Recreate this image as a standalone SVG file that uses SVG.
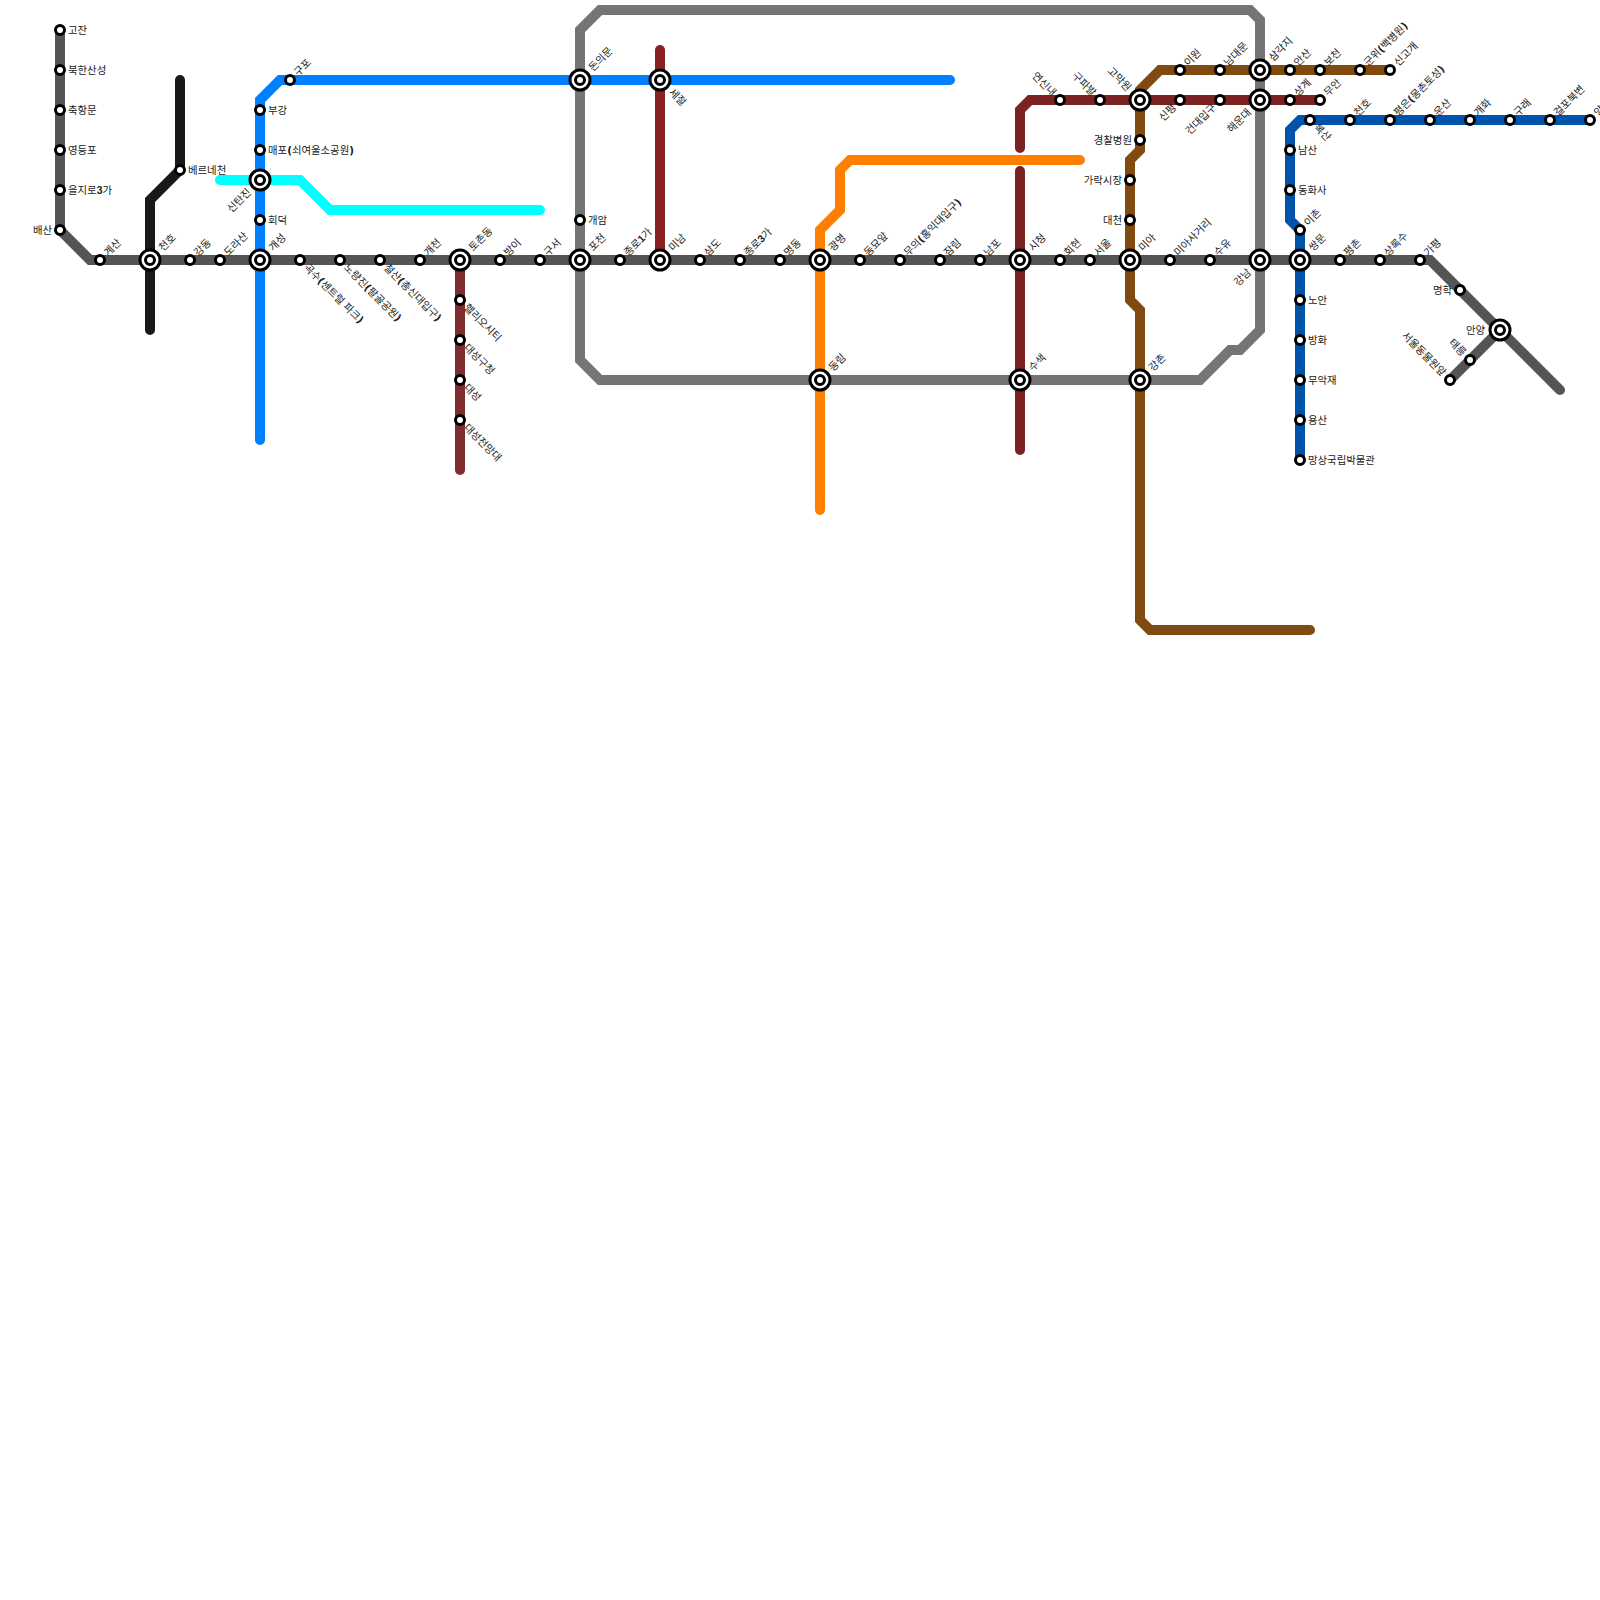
<svg xmlns="http://www.w3.org/2000/svg" width="1600" height="1600" viewBox="0 0 1600 1600">
<style>
.l{fill:none;stroke-width:10;stroke-linecap:round;stroke-linejoin:miter}
.s{fill:#fff;stroke:#000;stroke-width:3}
text{font-family:"Liberation Sans","Noto Sans CJK KR",sans-serif;font-size:10.4px;fill:#222}
.e{text-anchor:end}
.d{font-weight:bold}
.p{font-family:"DejaVu Sans",sans-serif;font-weight:bold}
</style>
<defs>
<g id="st"><circle class="s" r="4.5"/></g>
<g id="x"><circle class="s" r="10"/><circle class="s" r="4.5"/></g>
</defs>
<rect width="1600" height="1600" fill="#fff"/>
<g id="connectors">
<path class="l" stroke="#191919" d="M180 80V170L150 200V330"/>
<path class="l" stroke="#0080ff" d="M260 440V100L280 80H950"/>
<path class="l" stroke="#00ffff" d="M220 180H300L330 210H540"/>
<path class="l" stroke="#757575" d="M580 30L600 10H1250L1260 20V330L1240 350H1230L1200 380H600L580 360Z"/>
<path class="l" stroke="#8b2222" d="M660 50V260"/>
<path class="l" stroke="#7f2d2d" d="M460 260V470"/>
<path class="l" stroke="#7d2222" d="M1020 450V171M1020 148V110L1030 100H1320"/>
<path class="l" stroke="#ff8000" d="M820 510V230L840 210V170L850 160H1080"/>
<path class="l" stroke="#804a10" d="M1390 70H1160L1140 90V150L1130 160V300L1140 310V620L1150 630H1310"/>
<path class="l" stroke="#0055aa" d="M1300 460V230L1290 220V130L1300 120H1590"/>
<path class="l" stroke="#555555" d="M60 30V230L90 260H1430L1560 390M1500 330L1450 380"/>
</g>
<g id="n1" transform="translate(60,30)"><use href="#st"/><text x="8" y="3.5">고잔</text></g>
<g id="n2" transform="translate(60,70)"><use href="#st"/><text x="8" y="3.5">북한산성</text></g>
<g id="n3" transform="translate(60,110)"><use href="#st"/><text x="8" y="3.5">축항문</text></g>
<g id="n4" transform="translate(60,150)"><use href="#st"/><text x="8" y="3.5">영등포</text></g>
<g id="n5" transform="translate(60,190)"><use href="#st"/><text x="8" y="3.5">을지로<tspan class="d">3</tspan>가</text></g>
<g id="n6" transform="translate(60,230)"><use href="#st"/><text class="e" x="-8" y="3.5">배산</text></g>
<g id="n7" transform="translate(100,260)"><use href="#st"/><text transform="rotate(-45)" x="8" y="3.5">계산</text></g>
<g id="n8" transform="translate(150,260)"><use href="#x"/><text transform="rotate(-45)" x="15" y="3.5">천호</text></g>
<g id="n9" transform="translate(190,260)"><use href="#st"/><text transform="rotate(-45)" x="8" y="3.5">강동</text></g>
<g id="n10" transform="translate(220,260)"><use href="#st"/><text transform="rotate(-45)" x="8" y="3.5">도라산</text></g>
<g id="n11" transform="translate(260,260)"><use href="#x"/><text transform="rotate(-45)" x="15" y="3.5">개성</text></g>
<g id="n12" transform="translate(300,260)"><use href="#st"/><text transform="rotate(45)" x="8" y="3.5">곡수<tspan class="p">(</tspan>센트럴 파크<tspan class="p">)</tspan></text></g>
<g id="n13" transform="translate(340,260)"><use href="#st"/><text transform="rotate(45)" x="8" y="3.5">노량진<tspan class="p">(</tspan>팔골공원<tspan class="p">)</tspan></text></g>
<g id="n14" transform="translate(380,260)"><use href="#st"/><text transform="rotate(45)" x="8" y="3.5">철산<tspan class="p">(</tspan>총신대입구<tspan class="p">)</tspan></text></g>
<g id="n15" transform="translate(420,260)"><use href="#st"/><text transform="rotate(-45)" x="8" y="3.5">개천</text></g>
<g id="n16" transform="translate(460,260)"><use href="#x"/><text transform="rotate(-45)" x="15" y="3.5">토촌동</text></g>
<g id="n17" transform="translate(500,260)"><use href="#st"/><text transform="rotate(-45)" x="8" y="3.5">방이</text></g>
<g id="n18" transform="translate(540,260)"><use href="#st"/><text transform="rotate(-45)" x="8" y="3.5">구서</text></g>
<g id="n19" transform="translate(580,260)"><use href="#x"/><text transform="rotate(-45)" x="15" y="3.5">포천</text></g>
<g id="n20" transform="translate(620,260)"><use href="#st"/><text transform="rotate(-45)" x="8" y="3.5">종로<tspan class="d">1</tspan>가</text></g>
<g id="n21" transform="translate(660,260)"><use href="#x"/><text transform="rotate(-45)" x="15" y="3.5">미남</text></g>
<g id="n22" transform="translate(700,260)"><use href="#st"/><text transform="rotate(-45)" x="8" y="3.5">삼도</text></g>
<g id="n23" transform="translate(740,260)"><use href="#st"/><text transform="rotate(-45)" x="8" y="3.5">종로<tspan class="d">3</tspan>가</text></g>
<g id="n24" transform="translate(780,260)"><use href="#st"/><text transform="rotate(-45)" x="8" y="3.5">명동</text></g>
<g id="n25" transform="translate(820,260)"><use href="#x"/><text transform="rotate(-45)" x="15" y="3.5">광명</text></g>
<g id="n26" transform="translate(860,260)"><use href="#st"/><text transform="rotate(-45)" x="8" y="3.5">동묘앞</text></g>
<g id="n27" transform="translate(900,260)"><use href="#st"/><text transform="rotate(-45)" x="8" y="3.5">무의<tspan class="p">(</tspan>홍익대입구<tspan class="p">)</tspan></text></g>
<g id="n28" transform="translate(940,260)"><use href="#st"/><text transform="rotate(-45)" x="8" y="3.5">잠림</text></g>
<g id="n29" transform="translate(980,260)"><use href="#st"/><text transform="rotate(-45)" x="8" y="3.5">남포</text></g>
<g id="n30" transform="translate(1020,260)"><use href="#x"/><text transform="rotate(-45)" x="15" y="3.5">시청</text></g>
<g id="n31" transform="translate(1060,260)"><use href="#st"/><text transform="rotate(-45)" x="8" y="3.5">회현</text></g>
<g id="n32" transform="translate(1090,260)"><use href="#st"/><text transform="rotate(-45)" x="8" y="3.5">서울</text></g>
<g id="n33" transform="translate(1130,260)"><use href="#x"/><text transform="rotate(-45)" x="15" y="3.5">미아</text></g>
<g id="n34" transform="translate(1170,260)"><use href="#st"/><text transform="rotate(-45)" x="8" y="3.5">미아사거리</text></g>
<g id="n35" transform="translate(1210,260)"><use href="#st"/><text transform="rotate(-45)" x="8" y="3.5">수유</text></g>
<g id="n36" transform="translate(1260,260)"><use href="#x"/><text class="e" transform="rotate(-45)" x="-15" y="3.5">강남</text></g>
<g id="n37" transform="translate(1300,260)"><use href="#x"/><text transform="rotate(-45)" x="15" y="3.5">쌍문</text></g>
<g id="n38" transform="translate(1340,260)"><use href="#st"/><text transform="rotate(-45)" x="8" y="3.5">평촌</text></g>
<g id="n39" transform="translate(1380,260)"><use href="#st"/><text transform="rotate(-45)" x="8" y="3.5">상록수</text></g>
<g id="n40" transform="translate(1420,260)"><use href="#st"/><text transform="rotate(-45)" x="8" y="3.5">가평</text></g>
<g id="n41" transform="translate(1460,290)"><use href="#st"/><text class="e" x="-8" y="3.5">명학</text></g>
<g id="n42" transform="translate(1500,330)"><use href="#x"/><text class="e" x="-15" y="3.5">안양</text></g>
<g id="n43" transform="translate(1470,360)"><use href="#st"/><text class="e" transform="rotate(45)" x="-8" y="3.5">태릉</text></g>
<g id="n44" transform="translate(1450,380)"><use href="#st"/><text class="e" transform="rotate(45)" x="-8" y="3.5">서울동물원앞</text></g>
<g id="n45" transform="translate(290,80)"><use href="#st"/><text transform="rotate(-45)" x="8" y="3.5">구포</text></g>
<g id="n46" transform="translate(260,110)"><use href="#st"/><text x="8" y="3.5">부강</text></g>
<g id="n47" transform="translate(260,150)"><use href="#st"/><text x="8" y="3.5">매포<tspan class="p">(</tspan>쇠여울소공원<tspan class="p">)</tspan></text></g>
<g id="n48" transform="translate(260,180)"><use href="#x"/><text class="e" transform="rotate(-45)" x="-15" y="3.5">신탄진</text></g>
<g id="n49" transform="translate(260,220)"><use href="#st"/><text x="8" y="3.5">회덕</text></g>
<g id="n50" transform="translate(580,80)"><use href="#x"/><text transform="rotate(-45)" x="15" y="3.5">돈의문</text></g>
<g id="n51" transform="translate(660,80)"><use href="#x"/><text transform="rotate(45)" x="15" y="3.5">세절</text></g>
<g id="n52" transform="translate(580,220)"><use href="#st"/><text x="8" y="3.5">개암</text></g>
<g id="n53" transform="translate(180,170)"><use href="#st"/><text x="8" y="3.5">베르네천</text></g>
<g id="n54" transform="translate(460,300)"><use href="#st"/><text transform="rotate(45)" x="8" y="3.5">헬리오시티</text></g>
<g id="n55" transform="translate(460,340)"><use href="#st"/><text transform="rotate(45)" x="8" y="3.5">대성구청</text></g>
<g id="n56" transform="translate(460,380)"><use href="#st"/><text transform="rotate(45)" x="8" y="3.5">대성</text></g>
<g id="n57" transform="translate(460,420)"><use href="#st"/><text transform="rotate(45)" x="8" y="3.5">대성전망대</text></g>
<g id="n58" transform="translate(820,380)"><use href="#x"/><text transform="rotate(-45)" x="15" y="3.5">동림</text></g>
<g id="n59" transform="translate(1020,380)"><use href="#x"/><text transform="rotate(-45)" x="15" y="3.5">수색</text></g>
<g id="n60" transform="translate(1140,380)"><use href="#x"/><text transform="rotate(-45)" x="15" y="3.5">강촌</text></g>
<g id="n61" transform="translate(1060,100)"><use href="#st"/><text class="e" transform="rotate(45)" x="-8" y="3.5">연신내</text></g>
<g id="n62" transform="translate(1100,100)"><use href="#st"/><text class="e" transform="rotate(45)" x="-8" y="3.5">구파발</text></g>
<g id="n63" transform="translate(1140,100)"><use href="#x"/><text class="e" transform="rotate(45)" x="-15" y="3.5">고막원</text></g>
<g id="n64" transform="translate(1180,100)"><use href="#st"/><text class="e" transform="rotate(-45)" x="-8" y="3.5">신평</text></g>
<g id="n65" transform="translate(1220,100)"><use href="#st"/><text class="e" transform="rotate(-45)" x="-8" y="3.5">건대입구</text></g>
<g id="n66" transform="translate(1260,100)"><use href="#x"/><text class="e" transform="rotate(-45)" x="-15" y="3.5">해운대</text></g>
<g id="n67" transform="translate(1290,100)"><use href="#st"/><text transform="rotate(-45)" x="8" y="3.5">상계</text></g>
<g id="n68" transform="translate(1320,100)"><use href="#st"/><text transform="rotate(-45)" x="8" y="3.5">무안</text></g>
<g id="n69" transform="translate(1180,70)"><use href="#st"/><text transform="rotate(-45)" x="8" y="3.5">이원</text></g>
<g id="n70" transform="translate(1220,70)"><use href="#st"/><text transform="rotate(-45)" x="8" y="3.5">남대문</text></g>
<g id="n71" transform="translate(1260,70)"><use href="#x"/><text transform="rotate(-45)" x="15" y="3.5">삼각지</text></g>
<g id="n72" transform="translate(1290,70)"><use href="#st"/><text transform="rotate(-45)" x="8" y="3.5">안산</text></g>
<g id="n73" transform="translate(1320,70)"><use href="#st"/><text transform="rotate(-45)" x="8" y="3.5">보천</text></g>
<g id="n74" transform="translate(1360,70)"><use href="#st"/><text transform="rotate(-45)" x="8" y="3.5">군위<tspan class="p">(</tspan>백병원<tspan class="p">)</tspan></text></g>
<g id="n75" transform="translate(1390,70)"><use href="#st"/><text transform="rotate(-45)" x="8" y="3.5">신고개</text></g>
<g id="n76" transform="translate(1140,140)"><use href="#st"/><text class="e" x="-8" y="3.5">경찰병원</text></g>
<g id="n77" transform="translate(1130,180)"><use href="#st"/><text class="e" x="-8" y="3.5">가락시장</text></g>
<g id="n78" transform="translate(1130,220)"><use href="#st"/><text class="e" x="-8" y="3.5">대천</text></g>
<g id="n79" transform="translate(1310,120)"><use href="#st"/><text transform="rotate(45)" x="8" y="3.5">복산</text></g>
<g id="n80" transform="translate(1350,120)"><use href="#st"/><text transform="rotate(-45)" x="8" y="3.5">천호</text></g>
<g id="n81" transform="translate(1390,120)"><use href="#st"/><text transform="rotate(-45)" x="8" y="3.5">평은<tspan class="p">(</tspan>몽촌토성<tspan class="p">)</tspan></text></g>
<g id="n82" transform="translate(1430,120)"><use href="#st"/><text transform="rotate(-45)" x="8" y="3.5">운산</text></g>
<g id="n83" transform="translate(1470,120)"><use href="#st"/><text transform="rotate(-45)" x="8" y="3.5">개화</text></g>
<g id="n84" transform="translate(1510,120)"><use href="#st"/><text transform="rotate(-45)" x="8" y="3.5">구래</text></g>
<g id="n85" transform="translate(1550,120)"><use href="#st"/><text transform="rotate(-45)" x="8" y="3.5">걸포북변</text></g>
<g id="n86" transform="translate(1590,120)"><use href="#st"/><text transform="rotate(-45)" x="8" y="3.5">양촌</text></g>
<g id="n87" transform="translate(1290,150)"><use href="#st"/><text x="8" y="3.5">남산</text></g>
<g id="n88" transform="translate(1290,190)"><use href="#st"/><text x="8" y="3.5">동화사</text></g>
<g id="n89" transform="translate(1300,230)"><use href="#st"/><text transform="rotate(-45)" x="8" y="3.5">이촌</text></g>
<g id="n90" transform="translate(1300,300)"><use href="#st"/><text x="8" y="3.5">노안</text></g>
<g id="n91" transform="translate(1300,340)"><use href="#st"/><text x="8" y="3.5">방화</text></g>
<g id="n92" transform="translate(1300,380)"><use href="#st"/><text x="8" y="3.5">무악재</text></g>
<g id="n93" transform="translate(1300,420)"><use href="#st"/><text x="8" y="3.5">용산</text></g>
<g id="n94" transform="translate(1300,460)"><use href="#st"/><text x="8" y="3.5">망상국립박물관</text></g>
</svg>
